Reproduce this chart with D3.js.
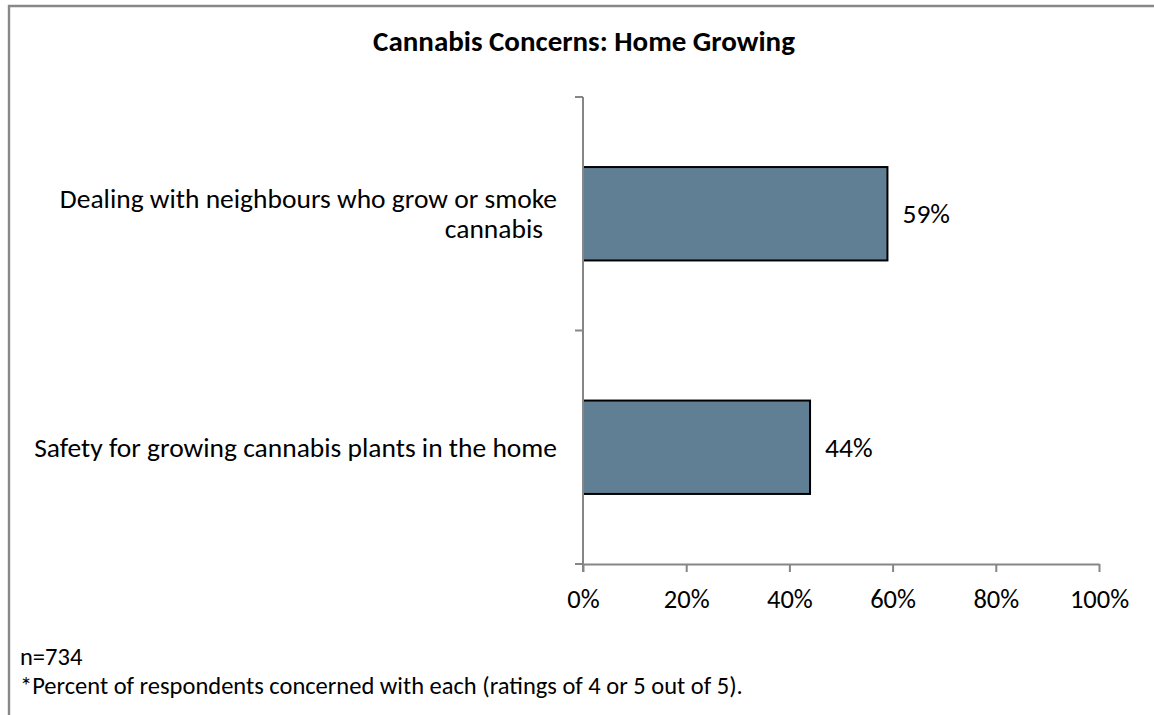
<!DOCTYPE html>
<html>
<head>
<meta charset="utf-8">
<script src="https://cdn.jsdelivr.net/npm/d3@7/dist/d3.min.js"></script>
<style>
  html, body { margin: 0; padding: 0; background: #fff; }
  svg { display: block; }
  text { font-family: Carlito, Calibri, Lato, "Open Sans", sans-serif; fill: #000; }
</style>
</head>
<body>
<svg id="chart" width="1154" height="715"></svg>
<script>
// Survey concerns and share of respondents rating them 4 or 5 out of 5
const categories = [
  ["Dealing with neighbours who grow or smoke", "cannabis"],
  ["Safety for growing cannabis plants in the home"]
];
const values = [0.59, 0.44];
const tickValues = [0, 0.2, 0.4, 0.6, 0.8, 1.0];
const title = "Cannabis Concerns: Home Growing";
const notes = ["n=734", "*Percent of respondents concerned with each (ratings of 4 or 5 out of 5)."];

const svg = d3.select("#chart");
const W = 1154, H = 715;
const plot = { left: 583, right: 1099, top: 97, bottom: 564 };
const axisColor = "#868686";
const barColor = "#607f94";
const fs = { title: 29, label: 27.5, value: 27.5, tick: 26.5, note: 24.5 };

// Frame around the chart area
svg.append("path")
  .attr("d", `M9,${H + 2} L9,6 L${W + 2},6`)
  .attr("fill", "none")
  .attr("stroke", "#888")
  .attr("stroke-width", 2.4);

// Title
svg.append("text")
  .attr("x", 584).attr("y", 51)
  .attr("text-anchor", "middle")
  .attr("font-weight", "bold")
  .attr("font-size", fs.title)
  .text(title);

const keys = categories.map((c, i) => i);
const x = d3.scaleLinear().domain([0, 1]).range([plot.left, plot.right]);
const y = d3.scaleBand().domain(keys).range([plot.top, plot.bottom])
  .paddingInner(0.6).paddingOuter(0.3);

// Bars
svg.append("g").selectAll("rect")
  .data(values)
  .join("rect")
  .attr("x", x(0))
  .attr("y", (d, i) => y(i))
  .attr("width", d => x(d) - x(0))
  .attr("height", y.bandwidth())
  .attr("fill", barColor)
  .attr("stroke", "#000")
  .attr("stroke-width", 2);

// Value labels
svg.append("g").selectAll("text")
  .data(values)
  .join("text")
  .attr("x", d => x(d) + 15)
  .attr("y", (d, i) => y(i) + y.bandwidth() / 2)
  .attr("dy", "0.35em")
  .attr("font-size", fs.value)
  .text(d => d3.format(".0%")(d));

// Category axis (ticks sit on the category boundaries)
const yAxis = svg.append("g");
yAxis.append("line")
  .attr("x1", plot.left).attr("x2", plot.left)
  .attr("y1", plot.top).attr("y2", plot.bottom + 8)
  .attr("stroke", axisColor).attr("stroke-width", 2);
const edges = [plot.top].concat(keys.map(k => y(k) + y.bandwidth() + y.step() * y.paddingInner() / 2));
yAxis.selectAll("line.tick")
  .data(edges)
  .join("line")
  .attr("class", "tick")
  .attr("x1", plot.left - 8).attr("x2", plot.left)
  .attr("y1", d => d).attr("y2", d => d)
  .attr("stroke", axisColor).attr("stroke-width", 2);

// Category labels, wrapped over one or two lines
const lineH = 30;
const labelGroups = svg.append("g").selectAll("text")
  .data(categories)
  .join("text")
  .attr("text-anchor", "end")
  .attr("font-size", fs.label);
labelGroups.each(function (lines, i) {
  const cy = y(i) + y.bandwidth() / 2;
  const t = d3.select(this);
  lines.forEach((ln, j) => {
    t.append("tspan")
      .attr("x", plot.left - 26 - (j > 0 ? 14 : 0))
      .attr("y", cy + (j - (lines.length - 1) / 2) * lineH)
      .attr("dy", "0.35em")
      .text(ln);
  });
});

// Value axis
const xAxis = svg.append("g")
  .attr("transform", `translate(0,${plot.bottom})`)
  .call(d3.axisBottom(x).tickValues(tickValues).tickFormat(d3.format(".0%"))
    .tickSizeInner(8).tickSizeOuter(0).tickPadding(17));
xAxis.attr("font-family", null);
xAxis.select(".domain").attr("stroke", axisColor).attr("stroke-width", 2);
xAxis.selectAll(".tick line").attr("stroke", axisColor).attr("stroke-width", 2);
xAxis.selectAll(".tick text")
  .attr("font-size", fs.tick)
  .attr("fill", "#000");

// Notes below the chart
svg.append("g").selectAll("text")
  .data(notes)
  .join("text")
  .attr("x", 20)
  .attr("y", (d, i) => 665 + i * 29)
  .attr("font-size", fs.note)
  .text(d => d);
</script>
</body>
</html>
